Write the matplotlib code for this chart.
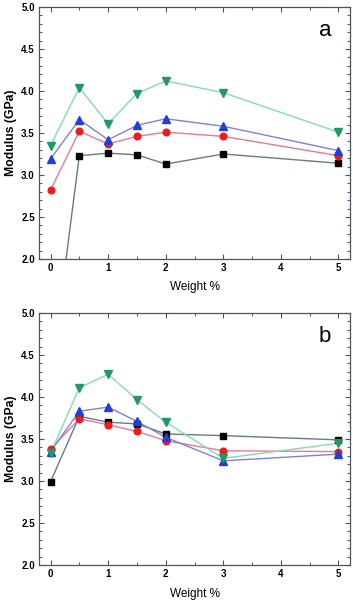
import numpy as np
import matplotlib
matplotlib.use("Agg")
import matplotlib.pyplot as plt
from matplotlib.ticker import MultipleLocator

plt.rcParams['font.family'] = ['Liberation Sans', 'DejaVu Sans']

weight = [0, 0.5, 1, 1.5, 2, 3, 5]

# panel a
a_black = [0.56, 3.23, 3.26, 3.24, 3.13, 3.25, 3.14]
a_red = [2.82, 3.52, 3.37, 3.46, 3.51, 3.46, 3.23]
a_blue = [3.19, 3.66, 3.42, 3.59, 3.67, 3.58, 3.29]
a_green = [3.35, 4.04, 3.61, 3.97, 4.12, 3.98, 3.51]

# panel b
b_black = [2.99, 3.77, 3.70, 3.68, 3.56, 3.54, 3.49]
b_red = [3.38, 3.74, 3.67, 3.59, 3.48, 3.36, 3.35]
b_blue = [3.35, 3.83, 3.88, 3.71, 3.52, 3.24, 3.32]
b_green = [3.33, 4.11, 4.27, 3.97, 3.70, 3.27, 3.45]

# marker, size, marker colour, line colour
styles = [
    ("s", 4.0, "black", "#6a7a88"),
    ("o", 4.8, "#f01c1c", "#e8789a"),
    ("^", 5.2, "#1f3fd8", "#7d82d8"),
    ("v", 5.2, "#23966a", "#84dcaa"),
]

fig = plt.figure(figsize=(3.53, 6.03), dpi=100)
W, H = 353, 603
ax_a = fig.add_axes([39 / W, 1 - 259 / H, 311 / W, 252 / H])
ax_b = fig.add_axes([39 / W, 1 - 565 / H, 311 / W, 252 / H])

for ax, series, label in [(ax_a, [a_black, a_red, a_blue, a_green], "a"),
                          (ax_b, [b_black, b_red, b_blue, b_green], "b")]:
    for vals, (m, ms, mc, lc) in zip(series, styles):
        ax.plot(weight, vals, color=lc, lw=1.0, zorder=2)
        ax.plot(weight, vals, ls="none", marker=m, ms=ms, color=mc,
                markeredgecolor=mc, zorder=3)
    ax.set_xlim(-0.2, 5.2)
    ax.set_ylim(2.0, 5.0)
    ax.xaxis.set_major_locator(MultipleLocator(1))
    ax.xaxis.set_minor_locator(MultipleLocator(0.5))
    ax.yaxis.set_major_locator(MultipleLocator(0.5))
    ax.yaxis.set_minor_locator(MultipleLocator(0.1))
    ax.yaxis.set_major_formatter(matplotlib.ticker.FormatStrFormatter("%.1f"))
    ax.tick_params(which="both", direction="in", top=True, right=True,
                   colors="#4a5560", labelcolor="black")
    ax.tick_params(which="major", length=3.5, width=0.8, labelsize=7, pad=3)
    ax.tick_params(which="minor", length=2, width=0.7)
    for lab in ax.get_xticklabels() + ax.get_yticklabels():
        lab.set_fontweight("bold")
    for sp in ax.spines.values():
        sp.set_color("#4a5560")
        sp.set_linewidth(0.9)
    ax.set_xlabel("Weight %", fontsize=8.5, labelpad=6)
    ax.set_ylabel("Modulus (GPa)", fontsize=8.8, fontweight="bold", labelpad=3)
    ax.text(0.92, 0.905, label, transform=ax.transAxes, fontsize=16,
            ha="center", va="center")

fig.savefig("out.png", dpi=100)
